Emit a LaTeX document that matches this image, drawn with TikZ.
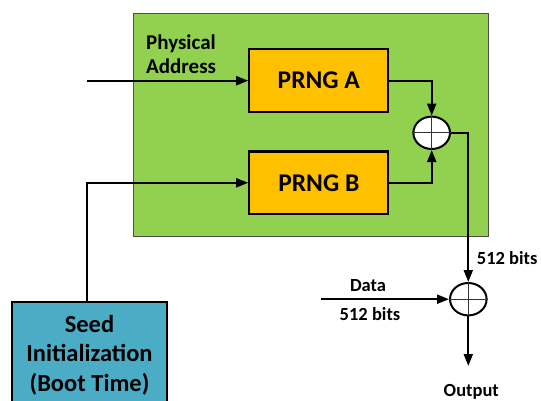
\documentclass[tikz,border=0pt]{standalone}
\usepackage{fontspec}
\setmainfont{Carlito}
\usetikzlibrary{arrows.meta,shapes.geometric}
\definecolor{chipgreen}{HTML}{92D050}
\definecolor{chipedge}{HTML}{4F4F4F}
\definecolor{prngorange}{HTML}{FFC000}
\definecolor{seedteal}{HTML}{4BACC6}
\begin{document}
\begin{tikzpicture}[x=1pt,y=-1pt,
  wire/.style={line width=2pt, black},
  flow/.style={wire, -{Triangle[length=12pt,width=9pt]}},
  prngbox/.style={rectangle, draw, line width=2.2pt, fill=prngorange,
    minimum width=139pt, minimum height=62.7pt, inner sep=0pt,
    font=\fontsize{25.5}{30}\selectfont\bfseries},
  xorgate/.style={ellipse, draw, line width=2pt, fill=white,
    minimum width=36.6pt, minimum height=32.4pt, inner sep=0pt},
  xorcross/.style={line width=1pt, black!80},
  lbl/.style={inner sep=0pt, font=\fontsize{18.5}{22}\selectfont\bfseries}
]
\useasboundingbox (0,0) rectangle (541,400);

% generator block
\node[rectangle, draw=chipedge, line width=1pt, fill=chipgreen,
  minimum width=355.6pt, minimum height=223pt, anchor=north west]
  (chip) at (132.7,13.3) {};
\node[anchor=south west, align=left, inner sep=0pt,
  font=\fontsize{21}{24}\selectfont\bfseries] (addr) at (146,74)
  {Physical\\Address};

\node[prngbox] (prngA) at (318.8,80.7) {PRNG A};
\node[prngbox] (prngB) at (318.8,182.8) {PRNG B};

\node[xorgate] (xor1) at (431.7,132.8) {};
\draw[xorcross] (xor1.north) -- (xor1.south) (xor1.west) -- (xor1.east);

\node[xorgate] (xor2) at (468.3,299.2) {};
\draw[xorcross] (xor2.north) -- (xor2.south) (xor2.west) -- (xor2.east);

% seed source
\node[rectangle, draw, line width=2.2pt, fill=seedteal,
  minimum width=154.4pt, minimum height=115pt, anchor=north]
  (seed) at (89.5,300.7) {};
\node[anchor=north, align=center, inner sep=0pt,
  font=\fontsize{24.5}{29.5}\selectfont\bfseries] (seedtext) at (89.5,314.7)
  {Seed\\Initialization\\(Boot Time)};

% connectors
\coordinate (addrin) at (87,80.7);
\coordinate (datain) at (320.7,299.2);
\coordinate (outend) at (468.3,366);

\draw[flow] (addrin) -- (prngA.west);
\draw[flow] (seed.north -| 87.3,0) |- (prngB.west);
\draw[flow] (prngA.east) -| (xor1.north);
\draw[flow] (prngB.east) -| (xor1.south);
\draw[flow] (xor1.east) -| (xor2.north);
\draw[flow] (datain) -- (xor2.west);
\draw[flow] (xor2.south) -- (outend);

% labels
\node[lbl, anchor=base west] (bitsout) at (476.7,264) {512 bits};
\node[lbl, anchor=base] (datalbl) at (368,291) {Data};
\node[lbl, anchor=base] (bitsin) at (370,320) {512 bits};
\node[lbl, anchor=base] (outlbl) at (471.3,396.7) {Output};
\end{tikzpicture}
\end{document}
